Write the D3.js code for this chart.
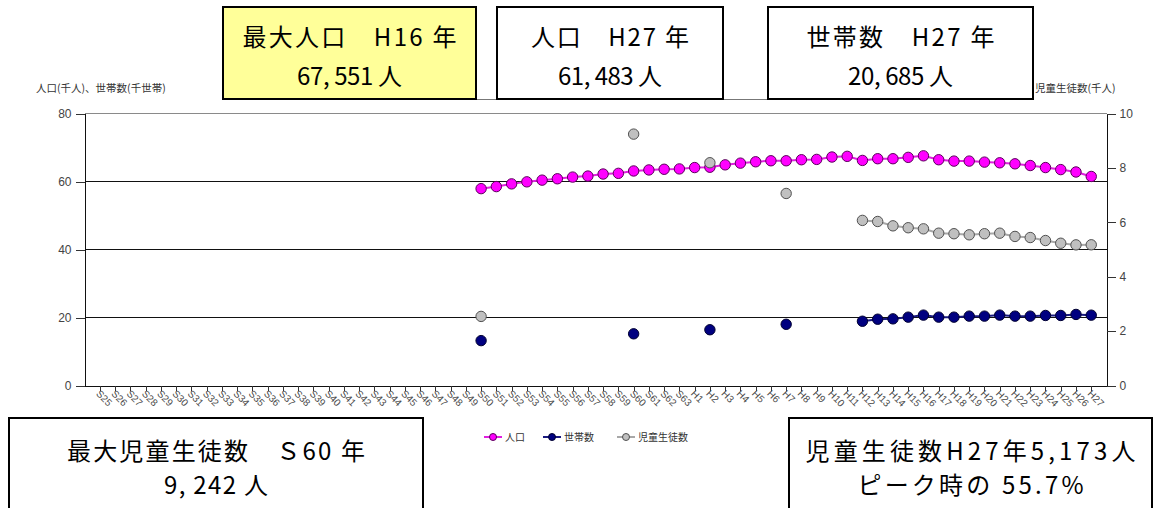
<!DOCTYPE html>
<html lang="ja">
<head>
<meta charset="utf-8">
<script src="https://cdn.jsdelivr.net/npm/d3@7/dist/d3.min.js"></script>
<style>
  html, body { margin: 0; padding: 0; background: #fff; }
  svg { display: block; }
</style>
</head>
<body>
<svg id="chart" width="1161" height="508"></svg>
<script>
// Fiscal-year categories: Showa 25–63, then Heisei 1–27
const categories = [
  "S25","S26","S27","S28","S29","S30","S31","S32","S33","S34",
  "S35","S36","S37","S38","S39","S40","S41","S42","S43","S44",
  "S45","S46","S47","S48","S49","S50","S51","S52","S53","S54",
  "S55","S56","S57","S58","S59","S60","S61","S62","S63",
  "H1","H2","H3","H4","H5","H6","H7","H8","H9","H10",
  "H11","H12","H13","H14","H15","H16","H17","H18","H19","H20",
  "H21","H22","H23","H24","H25","H26","H27"
];

// Population (thousand people)
const populationYears = [
  "S50","S51","S52","S53","S54","S55","S56","S57","S58","S59","S60","S61","S62","S63",
  "H1","H2","H3","H4","H5","H6","H7","H8","H9","H10","H11","H12","H13","H14",
  "H15","H16","H17","H18","H19","H20","H21","H22","H23","H24","H25","H26","H27"
];
const populationValues = [
  57.9, 58.5, 59.3, 59.9, 60.4, 60.8, 61.3, 61.6, 62.2, 62.4, 63.1, 63.4, 63.6, 63.7,
  64.1, 64.2, 64.9, 65.4, 65.8, 66.1, 66.1, 66.4, 66.5, 67.2, 67.4, 66.2, 66.7, 66.7,
  67.1, 67.551, 66.4, 66.0, 66.0, 65.7, 65.5, 65.2, 64.7, 64.1, 63.5, 62.8, 61.483
];

// Households (thousand households)
const householdYears = [
  "S50","S60","H2","H7","H12","H13","H14","H15","H16","H17",
  "H18","H19","H20","H21","H22","H23","H24","H25","H26","H27"
];
const householdValues = [
  13.2, 15.2, 16.4, 18.0, 18.9, 19.5, 19.6, 20.1, 20.7, 20.1,
  20.1, 20.4, 20.4, 20.7, 20.4, 20.4, 20.6, 20.6, 20.9, 20.685
];

// Pupils and students (thousand people), right axis
const studentYears = [
  "S50","S60","H2","H7","H12","H13","H14","H15","H16","H17",
  "H18","H19","H20","H21","H22","H23","H24","H25","H26","H27"
];
const studentValues = [
  2.54, 9.242, 8.19, 7.06, 6.07, 6.03, 5.87, 5.80, 5.76, 5.60,
  5.58, 5.54, 5.58, 5.60, 5.48, 5.44, 5.33, 5.23, 5.17, 5.173
];

const leftTicks = [0, 20, 40, 60, 80];
const rightTicks = [0, 2, 4, 6, 8, 10];

const leftTitle = "人口(千人)、世帯数(千世帯)";
const rightTitle = "児童生徒数(千人)";
const legendLabels = ["人口", "世帯数", "児童生徒数"];

// Callout boxes: frame, fill, text lines with their set widths and baselines
const callouts = [
  { x: 223, y: 7,   w: 253, h: 92, fill: "#ffff99",
    lines: ["最大人口\u3000H16 年", "67, 551 人"], widths: [214, 105], ty: [28, 67] },
  { x: 497, y: 7,   w: 226, h: 92, fill: "#ffffff",
    lines: ["人口\u3000H27 年", "61, 483 人"], widths: [158, 104], ty: [28, 67] },
  { x: 768, y: 7,   w: 265, h: 92, fill: "#ffffff",
    lines: ["世帯数\u3000H27 年", "20, 685 人"], widths: [188, 105], ty: [28, 67] },
  { x: 9,   y: 418, w: 414, h: 94, fill: "#ffffff",
    lines: ["最大児童生徒数\u3000Ｓ60 年", "9, 242 人"], widths: [298, 104], ty: [31, 65] },
  { x: 789, y: 418, w: 363, h: 94, fill: "#ffffff",
    lines: ["児童生徒数H27年5,173人", "ピーク時の 55.7%"], widths: [330, 226], ty: [31, 65] }
];

// ---- drawing ----
const svg = d3.select("#chart");
const latin = "'Liberation Sans', Arial, sans-serif";
const cjk = "'Noto Sans CJK JP', 'Noto Sans', sans-serif";

const plot = { left: 84.5, right: 1106.5, top: 113.5, bottom: 385.5 };

const x = d3.scalePoint().domain(categories).range([plot.left, plot.right]).padding(1);
const yL = d3.scaleLinear().domain([0, 80]).range([plot.bottom, plot.top]);
const yR = d3.scaleLinear().domain([0, 10]).range([plot.bottom, plot.top]);

function toSeries(years, values) {
  const m = new Map(years.map((k, i) => [k, values[i]]));
  return categories.map(c => ({ c, v: m.has(c) ? m.get(c) : null }));
}

// horizontal gridlines
svg.append("g")
  .selectAll("line")
  .data(leftTicks.filter(t => t > 0))
  .join("line")
  .attr("x1", plot.left).attr("x2", plot.right)
  .attr("y1", d => yL(d)).attr("y2", d => yL(d))
  .attr("stroke", d => d === 80 ? "#8a8a8a" : "#111")
  .attr("stroke-width", 1)
  .attr("shape-rendering", "crispEdges");

// left axis
const gL = svg.append("g")
  .attr("transform", `translate(${plot.left},0)`)
  .call(d3.axisLeft(yL).tickValues(leftTicks).tickSize(9).tickSizeOuter(0).tickPadding(4));
// right axis
const gR = svg.append("g")
  .attr("transform", `translate(${plot.right},0)`)
  .call(d3.axisRight(yR).tickValues(rightTicks).tickSize(9).tickSizeOuter(0).tickPadding(4));
// bottom axis
const gX = svg.append("g")
  .attr("transform", `translate(0,${plot.bottom})`)
  .call(d3.axisBottom(x).tickSize(5).tickSizeOuter(0));

[gL, gR, gX].forEach(g => {
  g.select(".domain").attr("stroke", "#111").attr("stroke-width", 1).attr("shape-rendering", "crispEdges");
  g.selectAll(".tick line").attr("stroke", "#333").attr("shape-rendering", "crispEdges");
  g.selectAll("text").attr("font-family", latin).attr("fill", "#444");
});
gL.selectAll("text").attr("font-size", 12);
gR.selectAll("text").attr("font-size", 12);
gX.selectAll("text")
  .attr("font-size", 10)
  .attr("fill", "#4a4a4a")
  .attr("text-anchor", "start")
  .attr("dy", null)
  .attr("y", 0)
  .attr("transform", "translate(-3,7) rotate(45)")
  .attr("dominant-baseline", "middle");

// axis titles
svg.append("text").attr("x", 36).attr("y", 92)
  .attr("font-family", cjk).attr("font-size", 10.5).attr("fill", "#333")
  .text(leftTitle);
svg.append("text").attr("x", 1035).attr("y", 92)
  .attr("font-family", cjk).attr("font-size", 10.5).attr("fill", "#333")
  .text(rightTitle);

// series
const seriesDefs = [
  { data: toSeries(populationYears, populationValues), y: yL, line: "#e020e0", fill: "#ff00ff", stroke: "#5a005a" },
  { data: toSeries(householdYears, householdValues),   y: yL, line: "#1a1a80", fill: "#000080", stroke: "#000030" },
  { data: toSeries(studentYears, studentValues),       y: yR, line: "#a8a8a8", fill: "#c0c0c0", stroke: "#505050" }
];

seriesDefs.forEach(s => {
  const line = d3.line()
    .defined(d => d.v != null)
    .x(d => x(d.c))
    .y(d => s.y(d.v));
  svg.append("path")
    .datum(s.data)
    .attr("fill", "none")
    .attr("stroke", s.line)
    .attr("stroke-width", 2)
    .attr("d", line);
  svg.append("g")
    .selectAll("circle")
    .data(s.data.filter(d => d.v != null))
    .join("circle")
    .attr("cx", d => x(d.c))
    .attr("cy", d => s.y(d.v))
    .attr("r", 5.2)
    .attr("fill", s.fill)
    .attr("stroke", s.stroke)
    .attr("stroke-width", 1);
});

// legend
const legendX = [484, 543, 617];
const legend = svg.append("g");
legendLabels.forEach((lab, i) => {
  const s = seriesDefs[i];
  const g = legend.append("g").attr("transform", `translate(${legendX[i]},437)`);
  g.append("line").attr("x1", 0).attr("x2", 18).attr("y1", 0).attr("y2", 0)
    .attr("stroke", s.line).attr("stroke-width", 2);
  g.append("circle").attr("cx", 9).attr("cy", 0).attr("r", 3.5)
    .attr("fill", s.fill).attr("stroke", s.stroke).attr("stroke-width", 1);
  g.append("text").attr("x", 21).attr("y", 0).attr("dy", "0.35em")
    .attr("font-family", cjk).attr("font-size", 10).attr("fill", "#333")
    .text(lab);
});

// thin frame line running behind the top callouts
svg.append("line")
  .attr("x1", 223).attr("x2", 1033).attr("y1", 99.5).attr("y2", 99.5)
  .attr("stroke", "#777").attr("stroke-width", 1);

// callout boxes
callouts.forEach(b => {
  const g = svg.append("g");
  g.append("rect")
    .attr("x", b.x).attr("y", b.y).attr("width", b.w).attr("height", b.h)
    .attr("fill", b.fill).attr("stroke", "#000").attr("stroke-width", 2);
  b.lines.forEach((t, i) => {
    g.append("text")
      .attr("x", b.x + b.w / 2)
      .attr("y", b.y + b.ty[i])
      .attr("text-anchor", "middle")
      .attr("dominant-baseline", "central")
      .attr("font-family", cjk)
      .attr("font-size", 24)
      .attr("textLength", b.widths[i])
      .attr("lengthAdjust", "spacing")
      .attr("fill", "#000")
      .text(t);
  });
});
</script>
</body>
</html>
